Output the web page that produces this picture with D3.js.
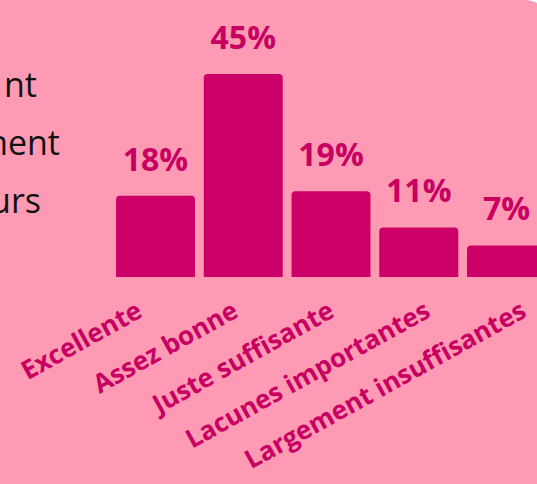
<!DOCTYPE html>
<html><head><meta charset="utf-8">
<script src="https://cdn.jsdelivr.net/npm/d3@7"></script>
<style>html,body{margin:0;padding:0;background:#fff;}svg{display:block;}</style>
</head><body>
<svg id="chart" width="537" height="484"></svg>
<script>
const categories = ["Excellente", "Assez bonne", "Juste suffisante", "Lacunes importantes", "Largement insuffisantes"];
const values = [18, 45, 19, 11, 7];
const valueLabels = ["18%", "45%", "19%", "11%", "7%"];
const sideText = ["nt", "ment", "urs"];

const svg = d3.select("#chart");
const W = 537, H = 484;
const bg = "#ff9ab5", barColor = "#cc0066", labelColor = "#c80061";

svg.append("rect").attr("width", W).attr("height", H).attr("fill", "#fff");
svg.append("rect").attr("x", -40).attr("y", 0).attr("width", 591).attr("height", 560)
  .attr("rx", 26).attr("fill", bg);

const x = d3.scaleBand().domain(categories).range([116, 546]).paddingInner(0.1).paddingOuter(0);
const y = d3.scaleLinear().domain([0, 45]).range([277, 74]);
// end positions of the slanted category labels
const xl = d3.scalePoint().domain(categories).range([144, 528]);

const r = 4;
function topRounded(x0, y0, w, h) {
  const rr = Math.min(r, h, w / 2);
  return `M${x0},${y0 + h}V${y0 + rr}Q${x0},${y0} ${x0 + rr},${y0}H${x0 + w - rr}Q${x0 + w},${y0} ${x0 + w},${y0 + rr}V${y0 + h}Z`;
}

svg.append("g").selectAll("path").data(values).join("path")
  .attr("d", (d, i) => topRounded(x(categories[i]), y(d), x.bandwidth(), y(0) - y(d)))
  .attr("fill", barColor);

svg.append("g").selectAll("text").data(values).join("text")
  .attr("x", (d, i) => x(categories[i]) + x.bandwidth() / 2)
  .attr("y", d => y(d) - 25)
  .attr("text-anchor", "middle")
  .attr("font-family", "'Open Sans', sans-serif")
  .attr("font-weight", 700)
  .attr("font-size", 32)
  .attr("fill", labelColor)
  .text((d, i) => valueLabels[i]);

svg.append("g").selectAll("text").data(categories).join("text")
  .attr("transform", d => `translate(${xl(d)},${y(0) + 39}) rotate(-29)`)
  .attr("text-anchor", "end")
  .attr("font-family", "'Open Sans', sans-serif")
  .attr("font-weight", 700)
  .attr("font-size", 26)
  .attr("fill", labelColor)
  .text(d => d);

const sideX = [37, 60, 41];
svg.append("g").selectAll("text").data(sideText).join("text")
  .attr("x", (d, i) => sideX[i])
  .attr("y", (d, i) => 97 + i * 58)
  .attr("text-anchor", "end")
  .attr("font-family", "'Open Sans', sans-serif")
  .attr("font-size", 34)
  .attr("fill", "#111")
  .text(d => d);
</script>
</body></html>
